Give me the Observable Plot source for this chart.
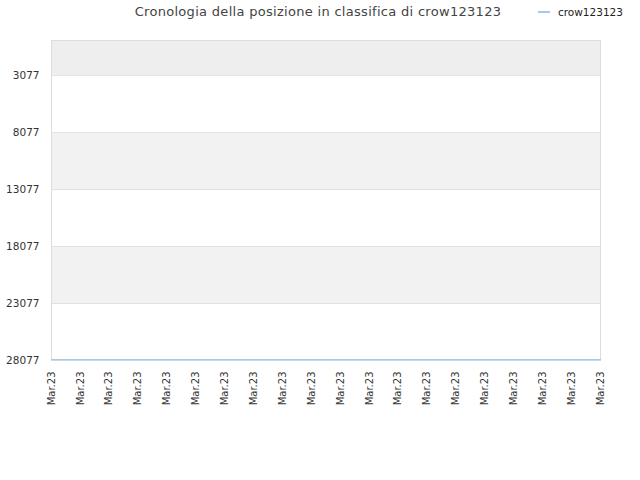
<!DOCTYPE html>
<html><head><meta charset="utf-8">
<script src="https://cdn.jsdelivr.net/npm/d3@7"></script>
<script src="https://cdn.jsdelivr.net/npm/@observablehq/plot@0.6"></script>
<style>
body{margin:0;background:#fff;font-family:"DejaVu Sans",sans-serif;}
#wrap{position:relative;width:640px;height:480px;}
#title{position:absolute;left:0;top:4px;width:636px;text-align:center;font-size:13px;letter-spacing:0.3px;color:#444;}
#legend{position:absolute;left:538px;top:6px;font-size:10.5px;color:#222;display:flex;align-items:center;}
#legend span.sw{display:inline-block;width:12px;height:2px;background:#a3c9f0;margin-right:8px;}
</style></head>
<body><div id="wrap">
<div id="title">Cronologia della posizione in classifica di crow123123</div>
<div id="legend"><span class="sw"></span>crow123123</div>
</div>
<script>
const dayIndex = d3.range(20);
const dateLabels = Array(20).fill("Mar.23");
const ranks = [28000,28000,28000,28000,28000,28000,28000,28000,28000,28000,28000,28000,28000,28000,28000,28000,28000,28000,28000,28000];
const yTicks = [3077, 8077, 13077, 18077, 23077, 28077];
const bands = [{y1:0,y2:3077,fill:"#eeeeee"},{y1:8077,y2:13077,fill:"#f2f2f2"},{y1:18077,y2:23077,fill:"#f2f2f2"}];
const data = dayIndex.map((i)=>({i, rank: ranks[i]}));
const chart = Plot.plot({
  width: 640, height: 480,
  marginLeft: 51, marginRight: 40, marginTop: 40, marginBottom: 120,
  style: {fontFamily: "DejaVu Sans, sans-serif", fontSize: "10px", color: "#333", background: "#fff"},
  x: {domain: [0, 19], label: null},
  y: {domain: [0, 28077], reverse: true, label: null},
  marks: [
    Plot.rectY(bands, {x1: 0, x2: 19, y1: "y1", y2: "y2", fill: "fill"}),
    Plot.ruleY(yTicks.slice(0, -1), {stroke: "#e2e2e2", strokeWidth: 1}),
    Plot.frame({stroke: "#dddddd"}),
    Plot.line(data, {x: "i", y: "rank", stroke: "#a3c9f0", strokeWidth: 1.2}),
    Plot.axisX({ticks: dayIndex, tickFormat: (d)=>dateLabels[d], tickRotate: -90, tickSize: 0, tickPadding: 11, fontSize: 10, label: null}),
    Plot.axisY({ticks: yTicks, tickSize: 0, tickPadding: 12, tickFormat: (d)=>String(d), fontSize: 10.5, label: null})
  ]
});
chart.style.position = "absolute";
chart.style.left = "0";
chart.style.top = "0";
document.getElementById("wrap").prepend(chart);
</script>
</body></html>
